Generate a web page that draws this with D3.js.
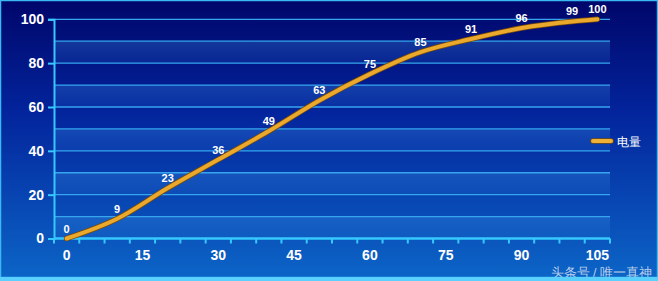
<!DOCTYPE html>
<html>
<head>
<meta charset="utf-8">
<script src="https://cdn.jsdelivr.net/npm/d3@7"></script>
<style>
  html, body { margin: 0; padding: 0; background: #00086a; }
  svg { display: block; }
  text { font-family: "Liberation Sans", Arial, sans-serif; }
</style>
</head>
<body>
<div id="chart"></div>
<script>
// categories on the x axis (Excel-style category axis, step 5)
const categories = d3.range(0, 110, 5).map(String);
const labelCats = ["0", "15", "30", "45", "60", "75", "90", "105"];
// series
const xVals = [0, 10, 20, 30, 40, 50, 60, 70, 80, 90, 100, 105];
const power = [0, 9, 23, 36, 49, 63, 75, 85, 91, 96, 99, 100];
const yTicks = [0, 20, 40, 60, 80, 100];
const seriesName = "电量";

const width = 658, height = 281;
const svg = d3.select("#chart").append("svg")
  .attr("width", width).attr("height", height);

const defs = svg.append("defs");
const bg = defs.append("linearGradient").attr("id", "bg")
  .attr("x1", 0).attr("y1", 0).attr("x2", 0).attr("y2", 1);
bg.append("stop").attr("offset", "0%").attr("stop-color", "#00066a");
bg.append("stop").attr("offset", "40%").attr("stop-color", "#03249c");
bg.append("stop").attr("offset", "100%").attr("stop-color", "#0c66c8");

const band = defs.append("linearGradient").attr("id", "band")
  .attr("x1", 0).attr("y1", 0).attr("x2", 0).attr("y2", 1);
band.append("stop").attr("offset", "0%").attr("stop-color", "#3a8ae0").attr("stop-opacity", 0.32);
band.append("stop").attr("offset", "100%").attr("stop-color", "#2a78d8").attr("stop-opacity", 0.16);

svg.append("rect").attr("width", width).attr("height", height).attr("fill", "url(#bg)");

const x = d3.scaleBand().domain(categories).range([54, 610]).paddingInner(0).paddingOuter(0);
const y = d3.scaleLinear().domain([0, 100]).range([238.5, 19.3]);
const cx = v => x(String(v)) + x.bandwidth() / 2;

// alternating bands
const g = svg.append("g");
g.selectAll("rect.band")
  .data(d3.range(0, 100, 20))
  .join("rect")
  .attr("class", "band")
  .attr("x", 54).attr("width", 556)
  .attr("y", d => y(d + 10)).attr("height", d => y(d) - y(d + 10))
  .attr("fill", "url(#band)");

// gridlines
g.selectAll("line.grid")
  .data(d3.range(10, 110, 10))
  .join("line")
  .attr("x1", 54).attr("x2", 610)
  .attr("y1", d => y(d)).attr("y2", d => y(d))
  .attr("stroke", "#35a6ee").attr("stroke-width", 1.3);

// y axis
const yAxis = svg.append("g").attr("transform", "translate(54,0)")
  .call(d3.axisLeft(y).tickValues(yTicks).tickSize(6).tickPadding(4));
yAxis.select(".domain").attr("stroke", "#36c8ff").attr("stroke-width", 2);
yAxis.selectAll(".tick line").attr("stroke", "#36c8ff").attr("stroke-width", 2);
yAxis.selectAll(".tick text")
  .attr("fill", "#ffffff").attr("font-size", 14).attr("font-weight", "bold")
  .attr("font-family", "Liberation Sans, Arial, sans-serif");

// x axis: ticks between categories
const xAxis = svg.append("g").attr("transform", `translate(0,${y(0)})`);
xAxis.append("line").attr("x1", 54).attr("x2", 610)
  .attr("stroke", "#36c8ff").attr("stroke-width", 2.5);
const bounds = categories.map(c => x(c)).concat([610]);
xAxis.selectAll("line.tk").data(bounds).join("line")
  .attr("class", "tk")
  .attr("x1", d => d).attr("x2", d => d)
  .attr("y1", 0).attr("y2", 5)
  .attr("stroke", "#36c8ff").attr("stroke-width", 2);
xAxis.selectAll("text").data(labelCats).join("text")
  .attr("x", d => x(d) + x.bandwidth() / 2)
  .attr("y", 21)
  .attr("text-anchor", "middle")
  .attr("fill", "#ffffff").attr("font-size", 14).attr("font-weight", "bold")
  .text(d => d);

// series line
const pts = xVals.map((v, i) => [cx(v), y(power[i])]);
const line = d3.line().curve(d3.curveMonotoneX);
svg.append("path").attr("d", line(pts))
  .attr("fill", "none").attr("stroke", "#7a4c08").attr("stroke-width", 5.5)
  .attr("stroke-linecap", "round").attr("stroke-linejoin", "round");
svg.append("path").attr("d", line(pts))
  .attr("fill", "none").attr("stroke", "#eaa82c").attr("stroke-width", 4)
  .attr("stroke-linecap", "round").attr("stroke-linejoin", "round");

// data labels
svg.selectAll("text.dl").data(xVals).join("text")
  .attr("class", "dl")
  .attr("x", d => cx(d))
  .attr("y", (d, i) => y(power[i]) - 6)
  .attr("text-anchor", "middle")
  .attr("fill", "#ffffff").attr("font-size", 11).attr("font-weight", "bold")
  .text((d, i) => power[i]);

// legend
const lg = svg.append("g").attr("transform", "translate(593,141)");
lg.append("line").attr("x1", 0).attr("x2", 18)
  .attr("stroke", "#7a4c08").attr("stroke-width", 5.5).attr("stroke-linecap", "round");
lg.append("line").attr("x1", 0).attr("x2", 18)
  .attr("stroke", "#f0b234").attr("stroke-width", 4).attr("stroke-linecap", "round");
lg.append("text").attr("x", 24).attr("y", 4.5)
  .attr("fill", "#ffffff").attr("font-size", 12)
  .attr("font-family", "Noto Sans CJK SC, sans-serif")
  .text(seriesName);

// watermark
svg.append("text").attr("x", 652).attr("y", 277)
  .attr("text-anchor", "end")
  .attr("fill", "#d0dcf0").attr("fill-opacity", 0.9).attr("font-size", 12.5)
  .attr("font-family", "Noto Sans CJK SC, sans-serif")
  .text("头条号 / 唯一真神");

// frame
svg.append("rect").attr("x", 0.5).attr("y", 0.5).attr("width", width - 1).attr("height", height - 4)
  .attr("fill", "none").attr("stroke", "#3ab8f0").attr("stroke-width", 1.5);
svg.append("rect").attr("x", 0).attr("y", 277).attr("width", width).attr("height", 4)
  .attr("fill", "#5ad0ff");
</script>
</body>
</html>
